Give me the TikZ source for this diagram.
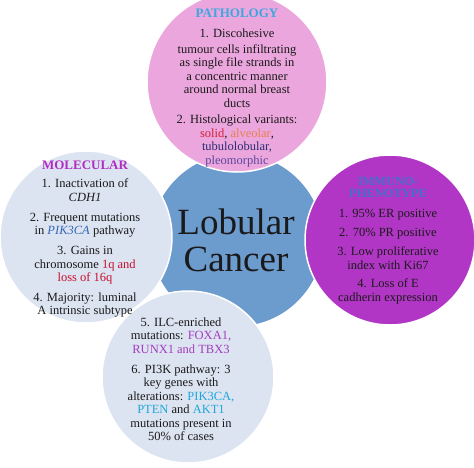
\documentclass[tikz,border=0pt]{standalone}
\usepackage{fontspec}
\setmainfont{Liberation Serif}
\definecolor{hubblue}{HTML}{6C9BCE}
\definecolor{pathpink}{HTML}{ECA6DE}
\definecolor{lightblue}{HTML}{DCE4F1}
\definecolor{immpurple}{HTML}{B236C6}
\definecolor{txt}{HTML}{1A1A1A}
\definecolor{ttlcyan}{HTML}{3AA8DE}
\definecolor{ttlpurple}{HTML}{B02CC2}
\definecolor{ttlblue}{HTML}{4470CC}
\definecolor{solidred}{HTML}{D42036}
\definecolor{alvorange}{HTML}{E6804E}
\definecolor{tubnavy}{HTML}{2B2F72}
\definecolor{pleopurple}{HTML}{5A4A9C}
\definecolor{genblue}{HTML}{3566B6}
\definecolor{chrred}{HTML}{C8102E}
\definecolor{genpurple}{HTML}{A43CC0}
\definecolor{gencyan}{HTML}{1FA6DA}
\begin{document}
\begin{tikzpicture}[x=1pt,y=-1pt,
  circ/.style={circle, draw=white, line width=1.5pt, minimum size=#1, inner sep=0pt},
  body/.style={align=center, font=\fontsize{12.5}{13.5}\selectfont, text=txt, inner sep=0pt, anchor=north},
  ttl/.style={align=center, font=\fontsize{13}{11.5}\selectfont\bfseries, inner sep=0pt}]
\useasboundingbox (0,0) rectangle (474,467);
\clip (0,0) rectangle (474,467);
\node[circ=174pt, fill=hubblue] (hub) at (237,240) {};
\node[circ=180pt, fill=pathpink] (path) at (237,82) {};
\node[circ=172pt, fill=lightblue] (mol) at (86,237) {};
\node[circ=170pt, fill=immpurple] (imm) at (390,240) {};
\node[circ=172pt, fill=lightblue] (gen) at (188,377) {};

\node[align=center, inner sep=0pt, text=txt, font=\fontsize{37}{37}\selectfont] (hubtxt) at (236,240) {Lobular\\Cancer};

\node[ttl, text=ttlcyan] (pathttl) at (237,13) {PATHOLOGY};
\node[body] (pathtxt) at (237,28.5) {1. Discohesive\\[2.5pt]
tumour cells infiltrating\\ as single file strands in\\ a concentric manner\\ around normal breast\\ ducts\\[3pt]
2. Histological variants:\\
{\color{solidred}solid}, {\color{alvorange}alveolar},\\
{\color{tubnavy}tubulolobular,}\\
{\color{pleopurple}pleomorphic}};

\node[ttl, text=ttlpurple] (molttl) at (85,165) {MOLECULAR};
\node[body] (moltxt) at (85,178.5) {1. Inactivation of\\ \textit{CDH1}\\[6.5pt]
2. Frequent mutations\\ in {\color{genblue}\textit{PIK3CA}} pathway\\[6.5pt]
3. Gains in\\ chromosome {\color{chrred}1q and}\\ {\color{chrred}loss of 16q}\\[6pt]
4. Majority: luminal\\ A intrinsic subtype};

\node[ttl, text=ttlblue, font=\fontsize{12.5}{11.5}\selectfont\bfseries] (immttl) at (388,187.5) {IMMUNO-\\PHENOTYPE};
\node[body] (immtxt) at (388,208.5) {1. 95\% ER positive\\[5.5pt]
2. 70\% PR positive\\[6pt]
3. Low proliferative\\ index with Ki67\\[5pt]
4. Loss of E\\ cadherin expression};

\node[body] (gentxt) at (181,317.5) {5. ILC-enriched\\ mutations: {\color{genpurple}FOXA1,}\\ {\color{genpurple}RUNX1 and TBX3}\\[6.5pt]
6. PI3K pathway: 3\\ key genes with\\ alterations: {\color{gencyan}PIK3CA,}\\ {\color{gencyan}PTEN} and {\color{gencyan}AKT1}\\ mutations present in\\ 50\% of cases};
\end{tikzpicture}
\end{document}
